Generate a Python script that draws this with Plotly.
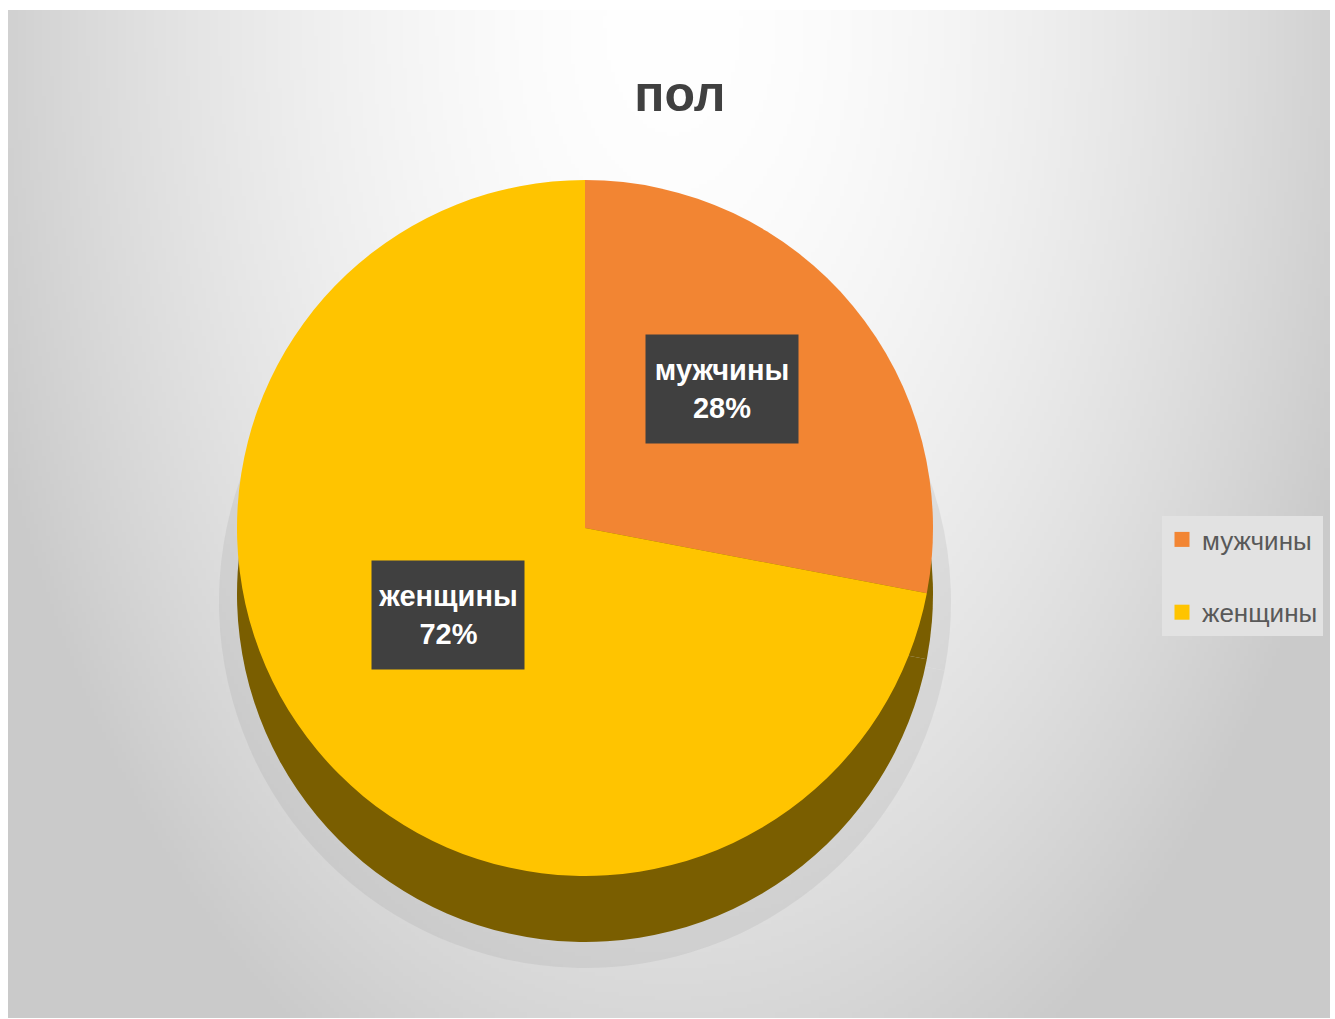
import base64
import math
import struct
import zlib

import numpy as np
import plotly.graph_objects as go

# ---- data -------------------------------------------------------------
title_text = "пол"
labels = ["мужчины", "женщины"]
values = [28, 72]
face_colors = ["#F28533", "#FFC400"]
side_colors = ["#7A5E00", "#7A5E00"]

# ---- geometry (pixels) ------------------------------------------------
W, H = 1335, 1019
cx, cy, R = 585, 528, 348          # top face of the pie
depth = 66                          # thickness of the pie side
frame = (8, 10, 1330, 1018)         # chart area inside the white border
FONT = "Liberation Sans, Arial, sans-serif"


def dom_x(x0, x1):
    return [x0 / W, x1 / W]


def dom_y(y0, y1):
    return [1 - y1 / H, 1 - y0 / H]


# ---- soft grey radial background as an embedded PNG --------------------
def gradient_png(w, h, scale):
    ys, xs = np.mgrid[0:h, 0:w].astype(float)
    px = frame[0] + xs * scale
    py = frame[1] + ys * scale
    d = np.sqrt(((px - 670) / 700) ** 2 + ((py - 20) / 1150) ** 2)
    v = 255 - 50 * d ** 1.7
    v = np.clip(v, 202, 254).astype(np.uint8)
    raw = b"".join(b"\x00" + row.tobytes() for row in v)

    def chunk(tag, data):
        c = struct.pack(">I", len(data)) + tag + data
        return c + struct.pack(">I", zlib.crc32(tag + data) & 0xFFFFFFFF)

    png = b"\x89PNG\r\n\x1a\n"
    png += chunk(b"IHDR", struct.pack(">IIBBBBB", w, h, 8, 0, 0, 0, 0))
    png += chunk(b"IDAT", zlib.compress(raw, 9))
    png += chunk(b"IEND", b"")
    return "data:image/png;base64," + base64.b64encode(png).decode()


fw, fh = frame[2] - frame[0], frame[3] - frame[1]
bg_src = gradient_png(fw // 4, fh // 4, 4)

fig = go.Figure()

# faint shadow under the pie
fig.add_trace(go.Pie(
    labels=labels, values=values, sort=False, direction="clockwise", rotation=0,
    marker=dict(colors=["#8a8a8a", "#8a8a8a"], line=dict(width=0)),
    opacity=0.14, textinfo="none", hoverinfo="skip", showlegend=False,
    domain=dict(x=dom_x(cx - R - 22, cx + R + 22),
                y=dom_y(cy - R + depth - 10, cy + R + depth + 26)),
))

# side of the pie (lower copy shifted down)
fig.add_trace(go.Pie(
    labels=labels, values=values, sort=False, direction="clockwise", rotation=0,
    marker=dict(colors=side_colors, line=dict(width=0)),
    textinfo="none", hoverinfo="skip", showlegend=False,
    domain=dict(x=dom_x(cx - R, cx + R), y=dom_y(cy - R + depth, cy + R + depth)),
))

# top face
fig.add_trace(go.Pie(
    labels=labels, values=values, sort=False, direction="clockwise", rotation=0,
    marker=dict(colors=face_colors, line=dict(width=0)),
    textinfo="none", hoverinfo="label+percent", showlegend=False,
    domain=dict(x=dom_x(cx - R, cx + R), y=dom_y(cy - R, cy + R)),
))

# legend entries
for lab, col in zip(labels, face_colors):
    fig.add_trace(go.Scatter(
        x=[None], y=[None], mode="markers", name=lab, legendgroup=lab,
        marker=dict(symbol="square", size=15, color=col),
    ))

# data labels in dark boxes at the middle of each slice
total = sum(values)
start = 0.0
annotations = []
for lab, val in zip(labels, values):
    mid = (start + val / 2) / total * 2 * math.pi
    start += val
    r = 0.51 * R
    lx = cx + r * math.sin(mid)
    ly = cy - r * math.cos(mid) - 26
    pct = round(100 * val / total)
    annotations.append(dict(
        x=lx / W, y=1 - ly / H, xref="paper", yref="paper",
        text=f"<b>{lab}</b><br><b>{pct}%</b>", showarrow=False,
        font=dict(family=FONT, size=29, color="#FFFFFF"),
        bgcolor="#404040", width=148, height=104, borderpad=2,
        xanchor="center", yanchor="middle", align="center",
    ))

fig.update_layout(
    width=W, height=H,
    margin=dict(l=0, r=0, t=0, b=0),
    paper_bgcolor="#FFFFFF",
    plot_bgcolor="rgba(0,0,0,0)",
    xaxis=dict(visible=False), yaxis=dict(visible=False),
    title=dict(text=f"<b>{title_text}</b>", x=680 / W, xanchor="center",
               y=1 - 93 / H, yanchor="middle",
               font=dict(family=FONT, size=50, color="#404040")),
    legend=dict(x=1162 / W, y=1 - 516 / H, xanchor="left", yanchor="top",
                bgcolor="#E2E2E2", tracegroupgap=36,
                font=dict(family=FONT, size=26, color="#595959"),
                itemwidth=30),
    annotations=annotations,
    images=[dict(source=bg_src, xref="paper", yref="paper",
                 x=frame[0] / W, y=1 - frame[1] / H,
                 sizex=fw / W, sizey=fh / H, sizing="stretch",
                 xanchor="left", yanchor="top", layer="below")],
    showlegend=True,
)

fig.write_html("out.html")
